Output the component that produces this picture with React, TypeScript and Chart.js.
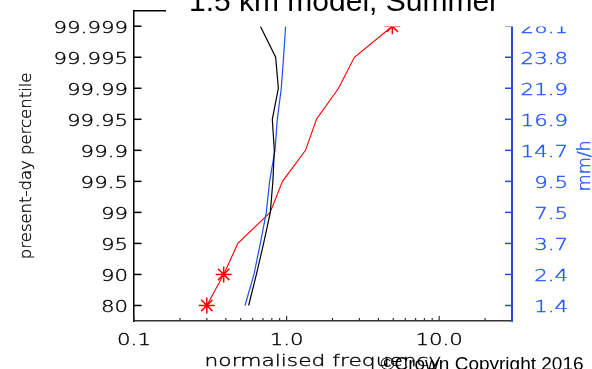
import React, { useEffect, useRef } from "react";
import { Chart, registerables } from "chart.js";

Chart.register(...registerables);

// Percentile levels (left axis) and the matching present-day rain rates (right axis)
const percentileLabels = ["80", "90", "95", "99", "99.5", "99.9", "99.95", "99.99", "99.995", "99.999"];
const rateLabels = ["1.4", "2.4", "3.7", "7.5", "9.5", "14.7", "16.9", "21.9", "23.8", "28.1"];

// Normalised frequency at each percentile level
const freqBlack = [0.564, 0.634, 0.707, 0.782, 0.813, 0.831, 0.806, 0.883, 0.848, 0.673];
const freqBlue = [0.534, 0.611, 0.673, 0.736, 0.774, 0.839, 0.869, 0.923, 0.955, 0.985];
const freqRed = [0.3, 0.387, 0.479, 0.78, 0.94, 1.33, 1.57, 2.19, 2.78, 4.93];
const redStarred = [true, true, false, false, false, false, false, false, false, true];

// Log-axis ticks
const xMajorTicks = [0.1, 1, 10];
const xMajorLabels = ["0.1", "1.0", "10.0"];
const xMinorTicks = [0.2, 0.3, 0.4, 0.5, 0.6, 0.7, 0.8, 0.9, 2, 3, 4, 5, 6, 7, 8, 9, 20];

const TITLE = "1.5 km model, Summer";
const X_TITLE = "normalised frequency";
const Y_TITLE = "present-day percentile";
const Y2_TITLE = "mm/h";
const CREDIT = "©Crown Copyright 2016";

const AXIS_FONT = "'DejaVu Sans', 'Liberation Sans', sans-serif";
const AXIS_WEIGHT = "300";
const LABEL_STRETCH = 1.33; // wide plotting-font look for axis text
const TEXT_DARK = "#000";
const BLUE_AXIS = "#2a4fd0";
const BLUE_TEXT = "#1f55f5";
const BLUE_LINE = "#1a4dff";

// Draws text horizontally stretched (optionally rotated) around its anchor,
// with a hairline outline so the light face reads like a single-stroke font
function drawWide(
  ctx: CanvasRenderingContext2D,
  text: string,
  x: number,
  y: number,
  align: CanvasTextAlign,
  sx: number,
  rot = 0
) {
  ctx.save();
  ctx.translate(x, y);
  if (rot) ctx.rotate(rot);
  ctx.scale(sx, 1);
  ctx.textAlign = align;
  ctx.fillText(text, 0, 0);
  ctx.strokeStyle = ctx.fillStyle;
  ctx.lineWidth = 0.35;
  ctx.strokeText(text, 0, 0);
  ctx.restore();
}

const decorations = {
  id: "decorations",
  afterDraw(chart: any) {
    const ctx = chart.ctx as CanvasRenderingContext2D;
    const { left, right, top, bottom } = chart.chartArea;
    const xs = chart.scales.x;
    const ys = chart.scales.y;
    const ys2 = chart.scales.y2;
    ctx.save();
    const seg = (x1: number, y1: number, x2: number, y2: number) => {
      ctx.beginPath();
      ctx.moveTo(x1, y1);
      ctx.lineTo(x2, y2);
      ctx.stroke();
    };

    // frame top and inward tick marks
    ctx.lineWidth = 1.5;
    ctx.strokeStyle = "#000";
    seg(left - 0.75, top, right, top);
    ys.ticks.forEach((t: any) => {
      const py = ys.getPixelForValue(t.value);
      seg(left, py, left + 7.5, py);
    });
    ctx.strokeStyle = BLUE_AXIS;
    ys2.ticks.forEach((t: any) => {
      const py = ys2.getPixelForValue(t.value);
      seg(right - 7, py, right, py);
    });
    ctx.strokeStyle = "#333";
    ctx.lineWidth = 1.2;
    xMajorTicks.forEach((v) => {
      const px = xs.getPixelForValue(v);
      seg(px, bottom, px, bottom - 5);
    });
    xMinorTicks.forEach((v) => {
      const px = xs.getPixelForValue(v);
      seg(px, bottom, px, bottom - 3);
    });

    // tick labels
    ctx.font = `${AXIS_WEIGHT} 16px ${AXIS_FONT}`;
    ctx.textBaseline = "alphabetic";
    ctx.fillStyle = TEXT_DARK;
    ys.ticks.forEach((t: any) => {
      const py = ys.getPixelForValue(t.value);
      drawWide(ctx, percentileLabels[t.value], left - 6, py + 6.6, "right", LABEL_STRETCH);
    });
    xs.ticks.forEach((t: any) => {
      const i = xMajorTicks.indexOf(t.value);
      if (i < 0) return;
      const px = xs.getPixelForValue(t.value);
      drawWide(ctx, xMajorLabels[i], px, 345.3, "center", LABEL_STRETCH);
    });
    ctx.fillStyle = BLUE_TEXT;
    ys2.ticks.forEach((t: any) => {
      const py = ys2.getPixelForValue(t.value);
      drawWide(ctx, rateLabels[t.value], right + 56, py + 6.6, "right", LABEL_STRETCH);
    });

    // axis titles
    ctx.fillStyle = TEXT_DARK;
    drawWide(ctx, X_TITLE, (left + right) / 2, 366, "center", 1.36);
    drawWide(ctx, Y_TITLE, 31, (top + bottom) / 2, "center", 1.03, -Math.PI / 2);
    ctx.fillStyle = BLUE_TEXT;
    ctx.font = `${AXIS_WEIGHT} 17px ${AXIS_FONT}`;
    drawWide(ctx, Y2_TITLE, 590, (top + bottom) / 2, "center", 1.03, -Math.PI / 2);

    // title on a white band
    const titleX = 189;
    ctx.fillStyle = "#fff";
    ctx.fillRect(titleX - 23, 0, chart.width - titleX + 23, 26.5);
    ctx.fillStyle = "#000";
    ctx.font = "30px 'Liberation Sans', Arial, sans-serif";
    ctx.textAlign = "left";
    ctx.fillText(TITLE, titleX, 10.5);

    // credit line
    ctx.font = "19px 'Liberation Sans', Arial, sans-serif";
    ctx.fillText(CREDIT, 380.5, 370);
    ctx.restore();
  },
};

const toPoints = (vals: number[]) => vals.map((v, i) => ({ x: v, y: i }));
const indexTicks = (scale: any) => {
  scale.ticks = percentileLabels.map((_, i) => ({ value: i }));
};
const fixSize = (dim: "width" | "height", size: number) => (scale: any) => {
  scale[dim] = size;
  scale.paddingTop = 0;
  scale.paddingBottom = 0;
  scale.paddingLeft = 0;
  scale.paddingRight = 0;
};

export default function App() {
  const canvasRef = useRef<HTMLCanvasElement | null>(null);

  useEffect(() => {
    if (!canvasRef.current) return;
    const chart = new Chart(canvasRef.current, {
      type: "line",
      data: {
        datasets: [
          {
            data: toPoints(freqBlack),
            borderColor: "#000",
            borderWidth: 1.2,
            pointRadius: 0,
            tension: 0,
          },
          {
            data: toPoints(freqBlue),
            borderColor: BLUE_LINE,
            borderWidth: 1.2,
            pointRadius: 0,
            tension: 0,
          },
          {
            data: toPoints(freqRed),
            borderColor: "#ff0000",
            borderWidth: 1.1,
            pointStyle: "star",
            pointRadius: redStarred.map((s) => (s ? 8 : 0)),
            pointBorderColor: "#ff0000",
            pointBorderWidth: 1.5,
            tension: 0,
          },
        ],
      },
      options: {
        animation: false,
        responsive: true,
        maintainAspectRatio: false,
        layout: { padding: { top: 10.7, right: 24, bottom: 0, left: 0 } },
        plugins: {
          legend: { display: false },
          tooltip: { enabled: false },
          title: { display: false },
        },
        scales: {
          x: {
            type: "logarithmic",
            min: 0.1,
            max: 30,
            afterBuildTicks: (scale: any) => {
              scale.ticks = xMajorTicks.map((v) => ({ value: v }));
            },
            afterFit: fixSize("height", 48),
            grid: { display: false, drawTicks: false },
            border: { display: true, color: "#333", width: 1.5 },
            ticks: { display: false },
          },
          y: {
            type: "linear",
            position: "left",
            min: -0.5,
            max: 9.5,
            afterBuildTicks: indexTicks,
            afterFit: fixSize("width", 134),
            grid: { display: false, drawTicks: false },
            border: { display: true, color: "#000", width: 1.5 },
            ticks: { display: false },
          },
          y2: {
            type: "linear",
            position: "right",
            min: -0.5,
            max: 9.5,
            afterBuildTicks: indexTicks,
            afterFit: fixSize("width", 56),
            grid: { display: false, drawTicks: false },
            border: { display: true, color: BLUE_AXIS, width: 2 },
            ticks: { display: false },
          },
        },
      },
      plugins: [decorations],
    });
    return () => chart.destroy();
  }, []);

  return (
    <div style={{ position: "fixed", left: 0, top: 0, width: 592, height: 369, background: "#fff" }}>
      <canvas ref={canvasRef} />
    </div>
  );
}
